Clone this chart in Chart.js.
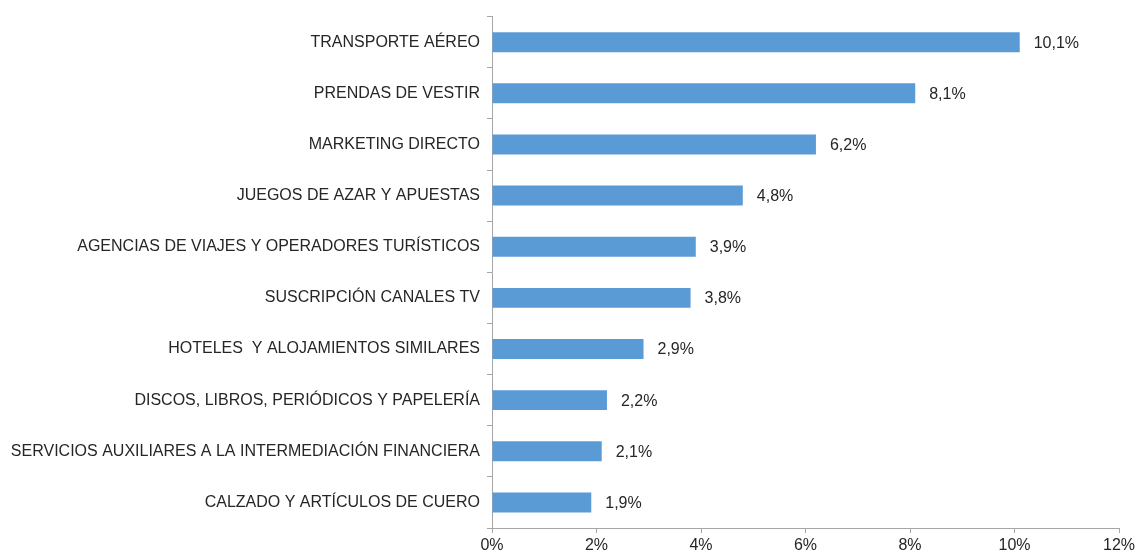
<!DOCTYPE html>
<html>
<head>
<meta charset="utf-8">
<script src="https://cdn.jsdelivr.net/npm/chart.js@4"></script>
<style>
    html, body { margin: 0; padding: 0; background: #fff; }
    #wrap { width: 1142px; height: 554px; }
</style>
</head>
<body>
<div id="wrap"><canvas id="chart"></canvas></div>
<script>
const categories = [
    'TRANSPORTE AÉREO',
    'PRENDAS DE VESTIR',
    'MARKETING DIRECTO',
    'JUEGOS DE AZAR Y APUESTAS',
    'AGENCIAS DE VIAJES Y OPERADORES TURÍSTICOS',
    'SUSCRIPCIÓN CANALES TV',
    'HOTELES  Y ALOJAMIENTOS SIMILARES',
    'DISCOS, LIBROS, PERIÓDICOS Y PAPELERÍA',
    'SERVICIOS AUXILIARES A LA INTERMEDIACIÓN FINANCIERA',
    'CALZADO Y ARTÍCULOS DE CUERO'
];
const shares = [10.1, 8.1, 6.2, 4.8, 3.9, 3.8, 2.9, 2.2, 2.1, 1.9];
const xTicks = [0, 2, 4, 6, 8, 10, 12];

const textColor = '#262626';
const axisColor = '#a6a6a6';
const fontFamily = '"Liberation Sans", Arial, sans-serif';

// value labels at the end of each bar
const barLabels = {
    id: 'barLabels',
    afterDatasetsDraw(chart) {
        const ctx = chart.ctx;
        const meta = chart.getDatasetMeta(0);
        ctx.save();
        ctx.font = '16px ' + fontFamily;
        ctx.fillStyle = textColor;
        ctx.textAlign = 'left';
        ctx.textBaseline = 'middle';
        meta.data.forEach((bar, i) => {
            const txt = shares[i].toFixed(1).replace('.', ',') + '%';
            ctx.fillText(txt, bar.x + 14, bar.y + 1);
        });
        ctx.restore();
    }
};

new Chart(document.getElementById('chart'), {
    type: 'bar',
    data: {
        labels: categories,
        datasets: [{
            data: shares,
            backgroundColor: '#5b9bd5',
            borderWidth: 0,
            barPercentage: 0.39,
            categoryPercentage: 1
        }]
    },
    options: {
        indexAxis: 'y',
        responsive: true,
        maintainAspectRatio: false,
        animation: false,
        layout: { padding: { top: 15, right: 23, left: 0, bottom: 0 } },
        plugins: {
            legend: { display: false },
            tooltip: { enabled: false }
        },
        scales: {
            x: {
                min: 0,
                max: 12,
                afterBuildTicks: s => { s.ticks = xTicks.map(v => ({ value: v })); },
                afterFit: s => { s.height = 26; },
                border: { color: axisColor, width: 1 },
                grid: { drawOnChartArea: false, color: axisColor, tickLength: 5 },
                ticks: {
                    padding: 3,
                    color: textColor,
                    font: { family: fontFamily, size: 16 },
                    callback: v => v + '%'
                }
            },
            y: {
                afterFit: s => { s.width = 492; },
                border: { color: axisColor, width: 1 },
                grid: { drawOnChartArea: false, color: axisColor, tickLength: 5, offset: true },
                ticks: {
                    padding: 7,
                    color: textColor,
                    font: { family: fontFamily, size: 16 }
                }
            }
        }
    },
    plugins: [barLabels]
});
</script>
</body>
</html>
